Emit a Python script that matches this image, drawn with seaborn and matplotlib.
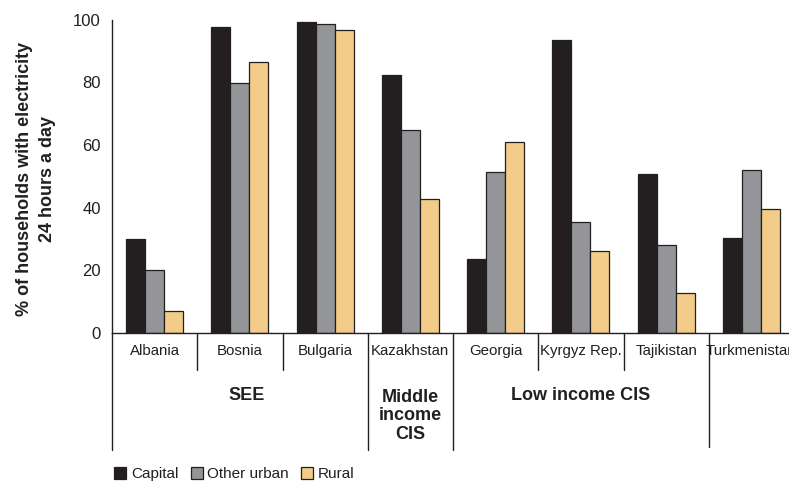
import matplotlib
matplotlib.use("Agg")
import matplotlib.pyplot as plt
import matplotlib.transforms as mtransforms
from matplotlib.patches import Patch
import seaborn as sns
import pandas as pd

countries = ["Albania", "Bosnia", "Bulgaria", "Kazakhstan", "Georgia",
             "Kyrgyz Rep.", "Tajikistan", "Turkmenistan"]
capital = [30.0, 97.5, 99.1, 82.3, 23.5, 93.5, 50.7, 30.3]
other_urban = [20.0, 79.6, 98.6, 64.8, 51.3, 35.5, 28.1, 52.0]
rural = [7.1, 86.5, 96.7, 42.7, 61.0, 26.2, 12.9, 39.7]
series = ["Capital", "Other urban", "Rural"]
colors = ["#231f20", "#939598", "#f2cc88"]
yticks = [0, 20, 40, 60, 80, 100]

# country groups: (label, label x position)
groups = [("SEE", 1.08), ("Middle\nincome\nCIS", 3.0), ("Low income CIS", 5.0)]

df = pd.DataFrame({
    "country": countries * 3,
    "series": [s for s in series for _ in countries],
    "value": capital + other_urban + rural,
})

sns.set_style("white")
plt.rcParams["font.family"] = ["Liberation Sans", "DejaVu Sans"]
ink = "#231f20"

fig = plt.figure(figsize=(7.89, 4.83), dpi=100)
ax_w = (794 - 112) / 789
ax_h = (333 - 19.5) / 483
ax = fig.add_axes([112 / 789, 1 - 333 / 483, ax_w, ax_h])

sns.barplot(data=df, x="country", y="value", hue="series", order=countries,
            hue_order=series, palette=colors, saturation=1, width=0.67, gap=0,
            edgecolor=ink, linewidth=0.9, legend=False, ax=ax)

ax.set_xlim(-0.5, len(countries) - 0.5)
ax.set_ylim(0, 100)
ax.set_yticks(yticks)
ax.set_yticklabels([str(t) for t in yticks], fontsize=12, color=ink)
ax.tick_params(axis="y", length=5, width=1, color=ink, pad=3, direction="out")
ax.tick_params(axis="x", length=0, pad=8, labelsize=10.8, labelcolor=ink)
ax.set_xlabel("")
ax.set_ylabel("% of households with electricity\n24 hours a day", fontsize=13,
              fontweight="bold", linespacing=1.45, color=ink)
ax.yaxis.set_label_coords((56 - 112) / 682, (333 - 179) / 313.5)
for side in ("top", "right"):
    ax.spines[side].set_visible(False)
for side in ("left", "bottom"):
    ax.spines[side].set_color(ink)
    ax.spines[side].set_linewidth(1.0)

# divider lines under the category axis
px = 313.5  # axes height in pixels
trans = mtransforms.blended_transform_factory(ax.transData, ax.transAxes)
depths = {-0.5: 450, 2.5: 450, 3.5: 450, 6.5: 447}
for b in [i - 0.5 for i in range(len(countries) + 1)]:
    bottom = depths.get(b, 370)
    ax.plot([b, b], [0, -(bottom - 333) / px], color=ink, lw=1.0,
            transform=trans, clip_on=False)

for label, xc in groups:
    yc = 416 if "\n" in label else 395
    ax.text(xc, -(yc - 333) / px, label, transform=trans,
            ha="center", va="center", fontsize=13, fontweight="bold",
            linespacing=1.1, color=ink)

handles = [Patch(facecolor=c, edgecolor=ink, linewidth=0.9) for c in colors]
fig.legend(handles, series, loc="center left", bbox_to_anchor=(108 / 789, 1 - 474 / 483),
           ncol=3, frameon=False, fontsize=11, handlelength=0.8, handleheight=0.8,
           handletextpad=0.3, columnspacing=0.8, borderaxespad=0.0, labelcolor=ink)

fig.savefig("out.png", dpi=100)
